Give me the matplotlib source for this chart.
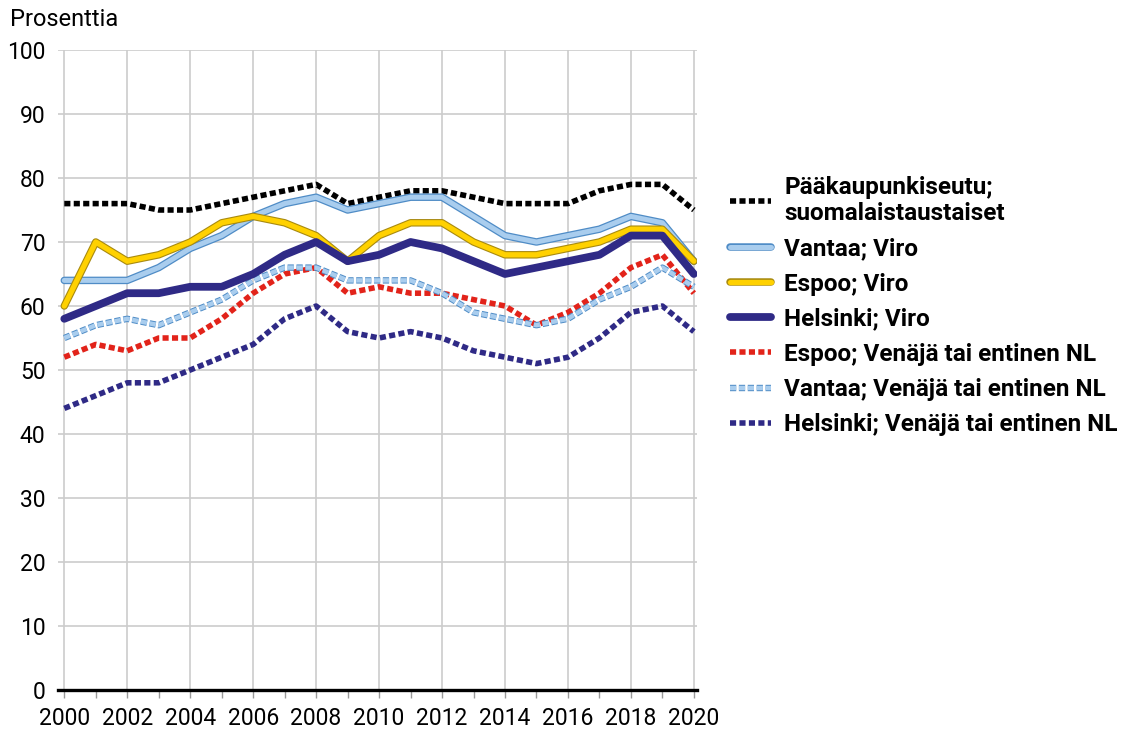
import numpy as np
import matplotlib
matplotlib.use("Agg")
import matplotlib.pyplot as plt
import matplotlib.patheffects as pe

plt.rcParams['font.family'] = ['Roboto', 'DejaVu Sans']

years = list(range(2000, 2021))

paakaupunkiseutu = [76, 76, 76, 75, 75, 76, 77, 78, 79, 76, 77, 78, 78, 77, 76, 76, 76, 78, 79, 79, 75]
vantaa_viro = [64, 64, 64, 66, 69, 71, 74, 76, 77, 75, 76, 77, 77, 74, 71, 70, 71, 72, 74, 73, 67]
espoo_viro = [60, 70, 67, 68, 70, 73, 74, 73, 71, 67, 71, 73, 73, 70, 68, 68, 69, 70, 72, 72, 67]
helsinki_viro = [58, 60, 62, 62, 63, 63, 65, 68, 70, 67, 68, 70, 69, 67, 65, 66, 67, 68, 71, 71, 65]
espoo_venaja = [52, 54, 53, 55, 55, 58, 62, 65, 66, 62, 63, 62, 62, 61, 60, 57, 59, 62, 66, 68, 62]
vantaa_venaja = [55, 57, 58, 57, 59, 61, 64, 66, 66, 64, 64, 64, 62, 59, 58, 57, 58, 61, 63, 66, 63]
helsinki_venaja = [44, 46, 48, 48, 50, 52, 54, 58, 60, 56, 55, 56, 55, 53, 52, 51, 52, 55, 59, 60, 56]

W, H = 1138, 731
fig = plt.figure(figsize=(W / 100, H / 100), dpi=100)
ax = fig.add_axes([58 / W, (H - 690) / H, (697 - 58) / W, (690 - 50) / H])

def edged(edge, width):
    return [pe.Stroke(linewidth=width, foreground=edge), pe.Normal()]

ax.plot(years, paakaupunkiseutu, color='black', lw=4.0, dashes=(1.1, 0.6),
        label='Pääkaupunkiseutu;\nsuomalaistaustaiset', zorder=3)
ax.plot(years, vantaa_viro, color='#a9cdee', lw=3.6, solid_capstyle='round',
        path_effects=edged('#4f8cc6', 5.4), label='Vantaa; Viro', zorder=3)
ax.plot(years, espoo_viro, color='#ffd100', lw=3.8, solid_capstyle='round',
        path_effects=edged('#a88a10', 5.4), label='Espoo; Viro', zorder=4)
ax.plot(years, helsinki_viro, color='#2f2a86', lw=5.6, solid_capstyle='round',
        label='Helsinki; Viro', zorder=4)
ax.plot(years, espoo_venaja, color='#e2231a', lw=4.0, dashes=(1.1, 0.6),
        label='Espoo; Venäjä tai entinen NL', zorder=3)
ax.plot(years, vantaa_venaja, color='#a9cdee', lw=3.2, dashes=(1.4, 0.6),
        path_effects=edged('#4f8cc6', 4.6), label='Vantaa; Venäjä tai entinen NL', zorder=3)
ax.plot(years, helsinki_venaja, color='#2f2a86', lw=4.0, dashes=(1.1, 0.6),
        label='Helsinki; Venäjä tai entinen NL', zorder=3)

ax.set_xlim(1999.8, 2020.1)
ax.set_ylim(0, 100)
ax.set_xticks(range(2000, 2021, 2))
ax.set_xticks(range(2000, 2021), minor=True)
ax.set_yticks(range(0, 101, 10))
ax.grid(True, which='major', color='#cccccc', lw=1.2, zorder=0)

for s in ['top', 'right', 'left']:
    ax.spines[s].set_visible(False)
ax.spines['bottom'].set_linewidth(2.4)
ax.spines['bottom'].set_color('black')
ax.spines['bottom'].set_zorder(5)

ax.tick_params(axis='y', length=0, pad=9, labelsize=16.5)
ax.tick_params(axis='x', which='both', length=6, width=1, color='#999999',
               direction='out', labelsize=16.5, pad=6)

fig.text(10 / W, 1 - 19 / H, 'Prosenttia', fontsize=17, va='center', ha='left')

leg = ax.legend(loc='upper left', bbox_to_anchor=(720 / W, 1 - 166 / H),
                bbox_transform=fig.transFigure, frameon=False,
                prop={'weight': 'bold', 'size': 17.5}, handlelength=1.7,
                handletextpad=0.55, labelspacing=0.5, borderaxespad=0)

fig.savefig('out.png', dpi=100)
